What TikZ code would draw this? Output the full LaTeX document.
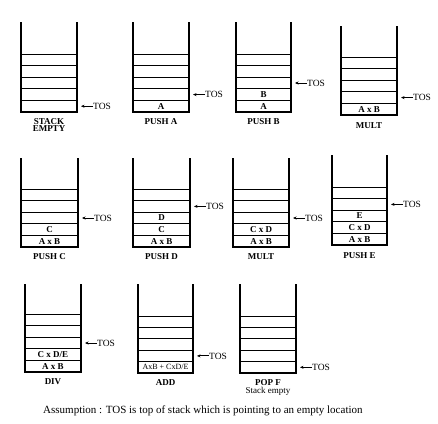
\documentclass[tikz,border=0pt]{standalone}
\usepackage{fontspec}
\setmainfont{Liberation Serif}
\usetikzlibrary{arrows.meta}
\newcommand{\stackbox}[6]{% #1 id, #2 xl, #3 xr, #4 top, #5 cells top, #6 bottom
  \pgfmathsetmacro{\hh}{(#6-#5)/5}%
  \pgfmathsetmacro{\xc}{(#2+#3)/2}%
  \draw[side] (#2,#4) -- (#2,#6) -- (#3,#6) -- (#3,#4);
  \foreach \i in {0,...,4}{
    \draw[cellline] (#2,{#5+\i*\hh}) -- (#3,{#5+\i*\hh});
  }
  \foreach \i in {1,...,5}{
    \coordinate (#1-c\i) at (\xc,{#5+(\i-0.5)*\hh});
    \coordinate (#1-r\i) at (#3,{#5+(\i-0.5)*\hh});
  }
  \coordinate (#1-b) at (\xc,#6);
}
\begin{document}
\begin{tikzpicture}[x=1pt,y=-1pt,
  side/.style={line width=1.5pt, line cap=rect},
  cellline/.style={line width=1pt},
  content/.style={font=\fontsize{9}{9}\selectfont\bfseries, inner sep=0pt},
  lbl/.style={font=\fontsize{9}{7.5}\selectfont\bfseries, inner sep=0pt, align=center, anchor=north},
  tos/.style={font=\fontsize{9.5}{9}\selectfont, inner sep=0pt, anchor=west},
  tosarrow/.style={-{Stealth[length=3.5pt,width=3pt]}, line width=1pt}]
\useasboundingbox[fill=white] (0,0) rectangle (438,423);

% Row 1
\stackbox{s1}{21}{77}{23}{54}{112}
\stackbox{s2}{133}{189}{23}{54}{112}
\stackbox{s3}{236}{291}{23}{54}{112}
\stackbox{s4}{341}{397}{27}{57}{115}
% Row 2
\stackbox{s5}{21}{78}{159}{189}{247}
\stackbox{s6}{133}{190}{159}{189}{247}
\stackbox{s7}{233}{289}{159}{189}{247}
\stackbox{s8}{332}{387}{156}{187}{245}
% Row 3
\stackbox{s9}{25}{81}{285}{314}{372}
\stackbox{s10}{138}{193}{285}{316}{373}
\stackbox{s11}{240}{296}{285}{316}{373}

% contents
\node[content] (a2) at (s2-c5) {A};
\node[content] (a3) at (s3-c5) {A};
\node[content] (b3) at (s3-c4) {B};
\node[content] (ab4) at (s4-c5) {A x B};
\node[content] (ab5) at (s5-c5) {A x B};
\node[content] (c5) at (s5-c4) {C};
\node[content] (ab6) at (s6-c5) {A x B};
\node[content] (c6) at (s6-c4) {C};
\node[content] (d6) at (s6-c3) {D};
\node[content] (ab7) at (s7-c5) {A x B};
\node[content] (cd7) at (s7-c4) {C x D};
\node[content] (ab8) at (s8-c5) {A x B};
\node[content] (cd8) at (s8-c4) {C x D};
\node[content] (e8) at (s8-c3) {E};
\node[content] (ab9) at (s9-c5) {A x B};
\node[content] (cde9) at (s9-c4) {C x D/E};
\node[content,font=\fontsize{8}{8}\selectfont] (sum10) at (s10-c5) {AxB + CxD/E};

% TOS pointers
\foreach \s/\c in {s1/5,s2/4,s3/3,s4/4,s5/3,s6/2,s7/3,s8/2,s9/3,s10/4,s11/5}{
  \node[tos] (\s-tos) at ([xshift=16pt]\s-r\c) {TOS};
  \draw[tosarrow] (\s-tos.west) -- ([xshift=4pt]\s-r\c);
}

% labels
\node[lbl] (l1) at ([yshift=-6pt]s1-b) {STACK\\EMPTY};
\node[lbl] (l2) at ([yshift=-6pt]s2-b) {PUSH A};
\node[lbl] (l3) at ([yshift=-6pt]s3-b) {PUSH B};
\node[lbl] (l4) at ([yshift=-7pt]s4-b) {MULT};
\node[lbl] (l5) at ([yshift=-6pt]s5-b) {PUSH C};
\node[lbl] (l6) at ([yshift=-6pt]s6-b) {PUSH D};
\node[lbl] (l7) at ([yshift=-6pt]s7-b) {MULT};
\node[lbl] (l8) at ([yshift=-7pt]s8-b) {PUSH E};
\node[lbl] (l9) at ([yshift=-6pt]s9-b) {DIV};
\node[lbl] (l10) at ([yshift=-6pt]s10-b) {ADD};
\node[lbl,font=\fontsize{9}{8}\selectfont] (l11) at ([yshift=-6pt]s11-b) {\textbf{POP F}\\Stack empty};

\node[font=\fontsize{11}{11}\selectfont, inner sep=0pt, anchor=west] (note) at (43,411) {Assumption : TOS is top of stack which is pointing to an empty location};
\end{tikzpicture}
\end{document}
